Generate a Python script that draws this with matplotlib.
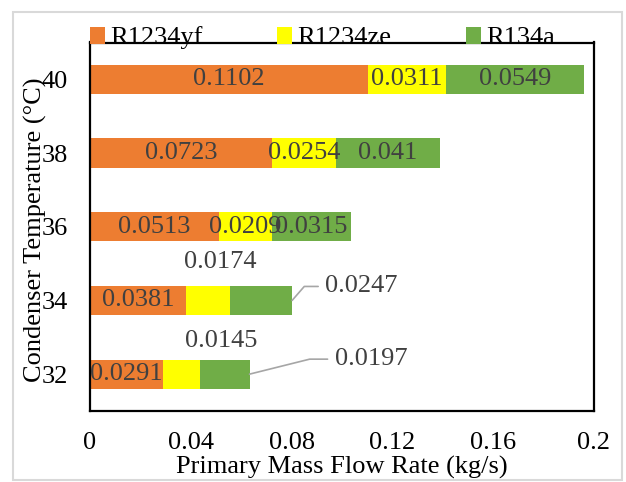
import matplotlib
matplotlib.use("Agg")
import matplotlib.pyplot as plt
from matplotlib.patches import Rectangle
import numpy as np

plt.rcParams['font.family'] = ['Liberation Serif', 'DejaVu Serif']

categories = ['32', '34', '36', '38', '40']
series_names = ['R1234yf', 'R1234ze', 'R134a']
r1234yf = [0.0291, 0.0381, 0.0513, 0.0723, 0.1102]
r1234ze = [0.0145, 0.0174, 0.0209, 0.0254, 0.0311]
r134a = [0.0197, 0.0247, 0.0315, 0.041, 0.0549]
x_ticks = [0, 0.04, 0.08, 0.12, 0.16, 0.2]
x_tick_labels = ['0', '0.04', '0.08', '0.12', '0.16', '0.2']

colors = ['#ED7D31', '#FFFF00', '#70AD47']
label_color = '#404040'
FS = 19

W, H = 626, 482
fig = plt.figure(figsize=(W / 100, H / 100), dpi=100)
ax = fig.add_axes([90 / W, (H - 411) / H, 504 / W, 368.5 / H])

y = np.arange(len(categories))
series = [r1234yf, r1234ze, r134a]
left = np.zeros(len(categories))
containers = []
for vals, name, c in zip(series, series_names, colors):
    vals = np.array(vals)
    bc = ax.barh(y, vals, left=left, height=0.395, color=c, label=name,
                 linewidth=0)
    containers.append((bc, vals, left.copy()))
    left = left + vals

# data labels
for si, (bc, vals, lft) in enumerate(containers):
    for i, v in enumerate(vals):
        txt = f'{v:g}'
        cx = lft[i] + v / 2
        if categories[i] in ('32', '34') and si == 1:
            off = (40, 33) if categories[i] == '32' else (12, 38)
            ax.annotate(txt, xy=(cx, y[i]), xytext=off, textcoords='offset pixels',
                        ha='center', va='center', fontsize=FS, color=label_color)
        elif categories[i] in ('32', '34') and si == 2:
            end = lft[i] + v
            if categories[i] == '32':
                off, ang = (85, 15), 14
            else:
                off, ang = (33, 14), 49
            ax.annotate(txt, xy=(end, y[i]), xytext=off, textcoords='offset pixels',
                        ha='left', va='center', fontsize=FS, color=label_color,
                        arrowprops=dict(arrowstyle='-', color='#a6a6a6', lw=1.2,
                                        shrinkA=3, shrinkB=0,
                                        connectionstyle=f'angle,angleA=0,angleB={ang},rad=0'))
        else:
            ax.text(cx, y[i], txt, ha='center', va='center', fontsize=FS,
                    color=label_color)

ax.set_xlim(0, 0.2)
ax.set_ylim(-0.5, len(categories) - 0.5)
ax.set_xticks(x_ticks)
ax.set_xticklabels(x_tick_labels)
ax.set_yticks(y)
ax.set_yticklabels(categories)
ax.tick_params(axis='both', length=0, labelsize=FS, colors='black')
ax.tick_params(axis='x', pad=15)
ax.tick_params(axis='y', pad=16)
for s in ax.spines.values():
    s.set_linewidth(1.6)
    s.set_color('black')

fig.text(342 / W, 1 - 467 / H, 'Primary Mass Flow Rate (kg/s)', ha='center',
         va='center', fontsize=FS)
fig.text(35 / W, 1 - 230 / H, 'Condenser Temperature (°C)', ha='center',
         va='center', rotation=90, fontsize=FS)

handles = [c[0] for c in containers]
fig.legend(handles, series_names, ncol=3, frameon=False, fontsize=FS,
           loc='center left', bbox_to_anchor=(90 / W, 1 - 38 / H),
           handlelength=0.55, handleheight=0.6, handletextpad=0.2,
           columnspacing=2.85, borderaxespad=0, borderpad=0)

fig.patches.append(Rectangle((12.5 / W, 2 / H), 609 / W, 468 / H,
                             transform=fig.transFigure, fill=False,
                             edgecolor='#d9d9d9', linewidth=1.5))

fig.savefig('out.png', dpi=100)
